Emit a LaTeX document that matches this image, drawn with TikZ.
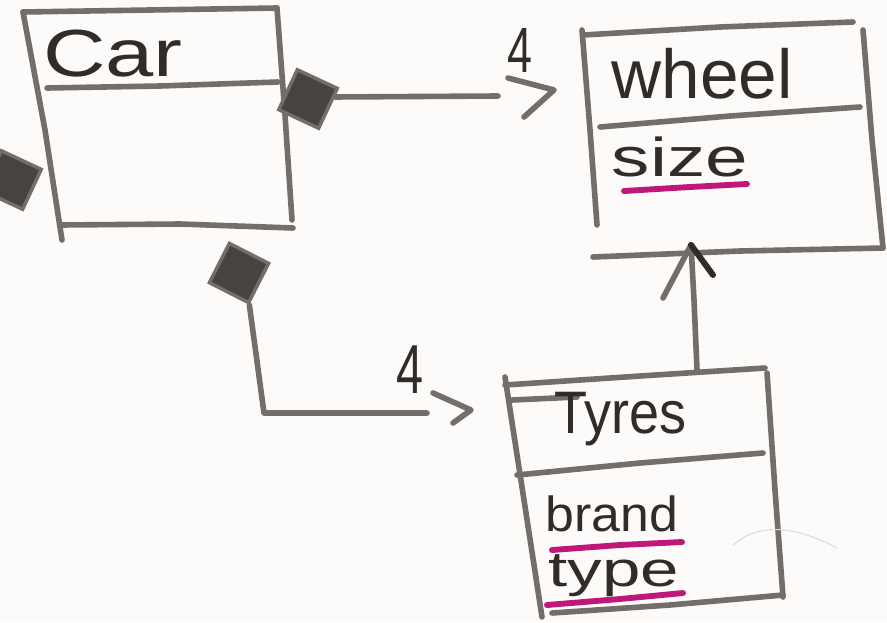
\documentclass[tikz,border=0pt]{standalone}
\usepackage{fontspec}
\usepackage{graphicx}
\setmainfont{Liberation Sans}
\usetikzlibrary{arrows.meta,calc}
\definecolor{paper}{RGB}{252,251,249}
\definecolor{pencil}{RGB}{115,110,106}
\definecolor{ink}{RGB}{48,44,41}
\definecolor{marker}{RGB}{190,24,122}
\definecolor{shade}{RGB}{72,67,62}
\definecolor{smudge}{RGB}{222,220,216}
% hand lettering: horizontal scale, font size, text
\newcommand{\hw}[3]{\scalebox{#1}[1]{\fontsize{#2}{#2}\selectfont #3}}
\begin{document}
\begin{tikzpicture}[x=0.75pt,y=-0.75pt,
  stroke/.style={draw=pencil, line width=4.2pt, line cap=round, line join=round},
  dark/.style={draw=ink, line width=4.5pt, line cap=round},
  under/.style={draw=marker, line width=4.4pt, line cap=round},
  lettering/.style={text=ink, inner sep=0pt},
  comp/.style={draw=pencil, fill=shade, line width=2.6pt, minimum size=33pt,
               inner sep=0pt, rotate=-25},
]
\useasboundingbox (0,0) rectangle (887,622);
\fill[paper] (0,0) rectangle (887,622);
\clip (0,0) rectangle (887,622);

% ---- Car class ----
\draw[stroke] (23,12) -- (150,10) -- (277,8);
\draw[stroke] (23,12) -- (45,130) -- (62,240);
\draw[stroke] (277,8) -- (285,115) -- (292,220);
\draw[stroke] (60,225) -- (180,224) -- (293,228);
\draw[stroke] (47,88) -- (160,86) -- (278,82);
\node[lettering] (car) at (113,54) {\hw{1.3}{50}{Car}};

% composition diamonds on Car
\node[comp] (dR) at (308,99) {};
\node[comp, rotate=-2] (dB) at (239,273) {};
\node[comp] (dL) at (12,180) {};

% ---- wheel class ----
\draw[stroke] (583,35) -- (720,27) -- (853,22);
\draw[stroke] (582,30) -- (590,130) -- (597,225);
\draw[stroke] (863,30) -- (872,140) -- (883,248);
\draw[stroke] (593,257) -- (740,251) -- (883,248);
\draw[stroke] (600,127) -- (730,116) -- (860,107);
\node[lettering] (wheel) at (702,74) {\hw{1.0}{52}{wheel}};
\node[lettering] (size) at (680,157) {\hw{1.4}{41}{size}};
\draw[under] (624,191) -- (690,187) -- (747,184);

% ---- Tyres class ----
\draw[stroke] (505,385) -- (640,376) -- (765,368);
\draw[stroke] (512,400) -- (577,397);
\draw[stroke] (505,377) -- (524,500) -- (542,617);
\draw[stroke] (767,373) -- (775,490) -- (783,597);
\draw[stroke] (552,613) -- (670,605) -- (783,595);
\draw[stroke] (517,475) -- (640,463) -- (763,453);
\node[lettering] (tyres) at (620,419) {\hw{0.9}{45}{Tyres}};
\node[lettering] (brand) at (612,514) {\hw{1.05}{37}{brand}};
\node[lettering] (type) at (614,576) {\hw{1.4}{37}{type}};
\draw[under] (552,550) -- (620,545) -- (682,542);
\draw[under] (547,605) -- (620,599) -- (683,593);
\draw[draw=smudge, line width=0.8pt] (733,545) .. controls (760,522) and (795,526) .. (837,548);

% ---- Car to wheel, multiplicity 4 ----
\coordinate (endT) at (498,96);
\coordinate (hT) at (554,90);
\draw[stroke] ($(dR.north east)!0.22!(dR.south east)$) -- (endT);
\draw[stroke] (hT) ++(-46,-12) -- (hT) -- ++(-30,27);
\node[lettering] (m1) at (520,50) {\hw{0.7}{48}{4}};

% ---- Car to Tyres, multiplicity 4 ----
\coordinate (bend) at (264,413);
\coordinate (endB) at (427,413);
\coordinate (hB) at (471,410);
\draw[stroke] (dB.south east) -- (bend) -- (endB);
\draw[stroke] (hB) ++(-38,-17) -- (hB) -- ++(-18,13);
\node[lettering] (m2) at (410,370) {\hw{0.7}{52}{4}};

% ---- Tyres to wheel ----
\coordinate (tyTop) at (697,370);
\coordinate (hV) at (691,245);
\draw[stroke] (tyTop) -- (694,300) -- (hV);
\draw[stroke] (hV) -- ++(-28,53);
\draw[dark] (hV) -- ++(22,30);
\end{tikzpicture}
\end{document}
